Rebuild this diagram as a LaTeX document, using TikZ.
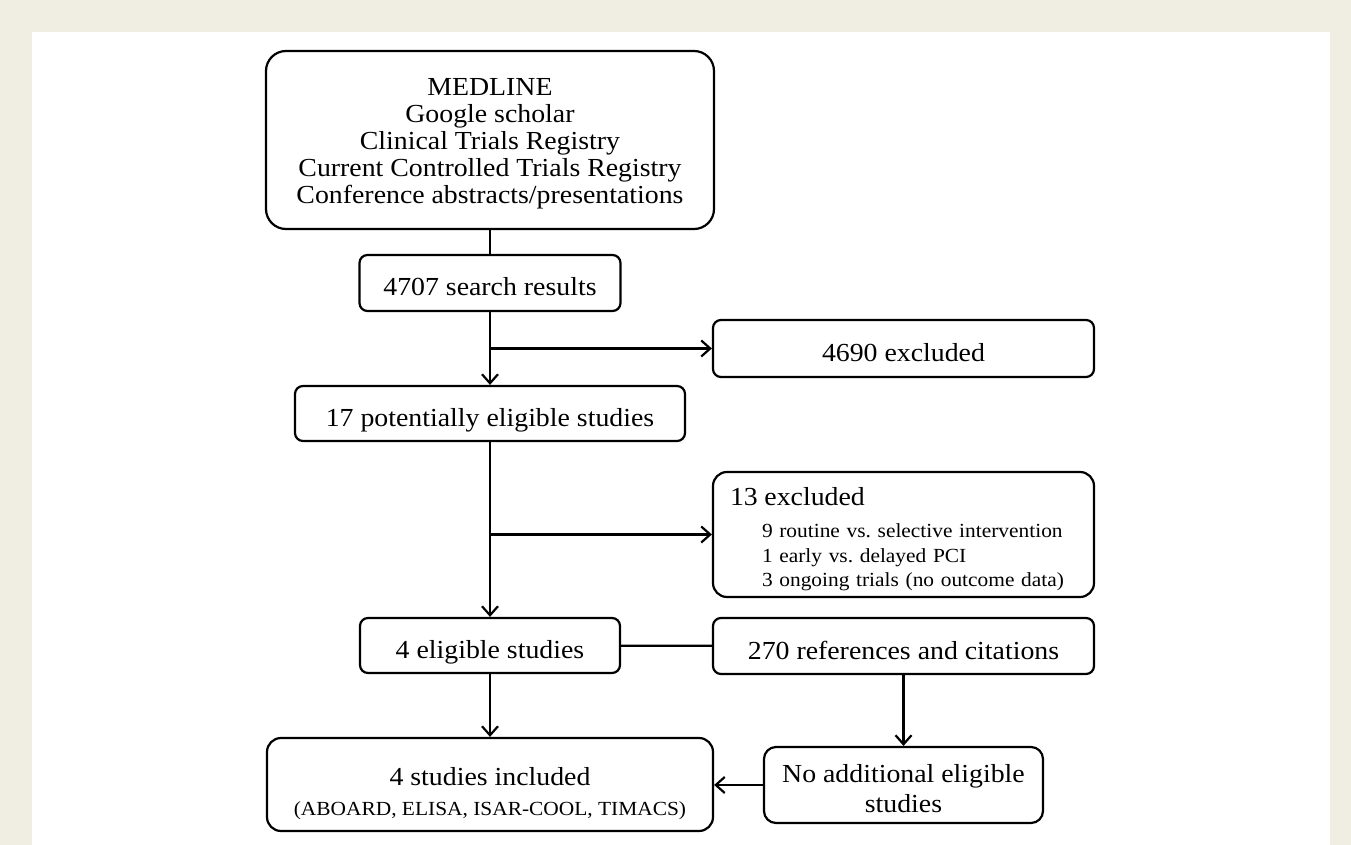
\documentclass[tikz,border=0pt]{standalone}
\usepackage{fontspec}
\setmainfont{Liberation Serif}[FakeStretch=1.07]
\usetikzlibrary{arrows.meta, positioning}
\frenchspacing

\definecolor{pagebeige}{RGB}{240,237,227}
\newcommand{\flowfont}{\fontsize{13}{15}\selectfont}
\newcommand{\notefont}{\fontsize{10}{12.3}\selectfont}

\tikzset{
  flowbox/.style={draw, line width=1.1pt, rounded corners=4pt, align=center, inner sep=0pt, font=\flowfont},
  oneline/.style={text height=13pt, text depth=0pt},
  flowline/.style={line width=1.1pt},
  flowarrow/.style={line width=1.1pt, -{Straight Barb[length=4.5pt, width=8pt]}},
}

\begin{document}
\begin{tikzpicture}[x=0.5pt, y=-0.5pt]
                \fill[pagebeige] (0, 0) rectangle (1351, 845);
                \fill[white] (32, 32) rectangle (1330, 845);
                \useasboundingbox (0, 0) rectangle (1351, 845);

                \node[flowbox, rounded corners=10pt, minimum width=224pt, minimum height=89pt,
                      font=\fontsize{13}{13.5}\selectfont] (src) at (490, 140)
                      {\rule{0pt}{11.9pt}MEDLINE\\Google scholar\\Clinical Trials Registry\\Current Controlled Trials Registry\\Conference abstracts/presentations};
                \node[flowbox, oneline, minimum width=130.5pt, minimum height=28pt] (search) at (490, 283) {4707 search results};
                \node[flowbox, oneline, minimum width=190.5pt, minimum height=28.5pt] (excl1) at (903.5, 348.5) {4690 excluded};
                \node[flowbox, oneline, minimum width=195pt, minimum height=27.5pt] (potential) at (490, 413.5) {17 potentially eligible studies};
                \node[flowbox, rounded corners=7pt, align=left, text width=173.5pt, inner xsep=8.5pt, minimum height=62.5pt,
                      font=\notefont] (excl2) at (903.5, 534.5)
                      {{\flowfont\rule{0pt}{13.9pt}13 excluded}\\[3.5pt]
                       \hspace*{16pt}9 routine vs. selective intervention\\
                       \hspace*{16pt}1 early vs. delayed PCI\\
                       \hspace*{16pt}3 ongoing trials (no outcome data)};
                \node[flowbox, oneline, minimum width=130pt, minimum height=27.5pt] (eligible) at (490, 645.5) {4 eligible studies};
                \node[flowbox, oneline, minimum width=190.5pt, minimum height=28pt] (refs) at (903.5, 646) {270 references and citations};
                \node[flowbox, rounded corners=7pt, minimum width=223pt, minimum height=46.5pt] (included) at (490, 784.5)
                      {\rule{0pt}{17.9pt}4 studies included\\{\notefont (ABOARD, ELISA, ISAR-COOL, TIMACS)}};
                \node[flowbox, rounded corners=6pt, minimum width=139.5pt, minimum height=38pt] (noadd) at (903.5, 785)
                      {\rule{0pt}{12.9pt}No additional eligible\\studies};

                \draw[flowline] (src) -- (search);
                \draw[flowarrow] (search) -- (potential);
                \draw[flowarrow] (search.south |- excl1.west) -- (excl1.west);
                \draw[flowarrow] (potential) -- (eligible);
                \draw[flowarrow] (potential.south |- excl2.west) -- (excl2.west);
                \draw[flowline] (eligible) -- (refs);
                \draw[flowarrow] (eligible) -- (included);
                \draw[flowarrow] (refs) -- (noadd);
                \draw[flowarrow] (noadd.west) -- (noadd.west -| included.east);
\end{tikzpicture}
\end{document}
